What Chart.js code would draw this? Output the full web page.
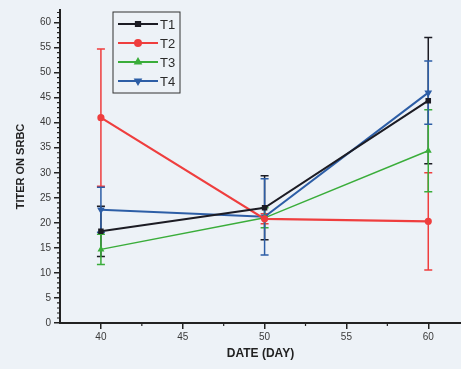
<!DOCTYPE html>
<html>
<head>
<meta charset="utf-8">
<script src="https://cdn.jsdelivr.net/npm/chart.js@4.4.1/dist/chart.umd.min.js"></script>
<style>
  body { margin: 0; background: #edf2f7; }
  canvas { display: block; }
</style>
</head>
<body>
<canvas id="titerChart" width="461" height="369"></canvas>
<script>
// datos
const days = [40, 50, 60];
const xTicks = [40, 45, 50, 55, 60];
const yTicks = [0, 5, 10, 15, 20, 25, 30, 35, 40, 45, 50, 55, 60];

const t1 = [18.3, 23, 44.4];
const t2 = [41, 20.8, 20.3];
const t3 = [14.7, 21, 34.4];
const t4 = [22.6, 21.2, 46];

const t1Err = [5, 6.4, 12.6];
const t2Err = [13.7, 1, 9.7];
const t3Err = [3, 2, 8.2];
const t4Err = [4.5, 7.6, 6.3];

const errs = [t1Err, t2Err, t3Err, t4Err];

function pts(vals) {
  return days.map(function(d, i){ return {x: d, y: vals[i]}; });
}

// fondo
const bgPlugin = {
  id: 'bg',
  beforeDraw: function(chart){
    const c = chart.ctx;
    c.save();
    c.fillStyle = '#edf2f7';
    c.fillRect(0, 0, chart.width, chart.height);
    c.restore();
  }
};

// barras de error
const errorBars = {
  id: 'errorBars',
  beforeDatasetsDraw: function(chart){
    const c = chart.ctx;
    const xs = chart.scales.x, ys = chart.scales.y;
    chart.data.datasets.forEach(function(ds, i){
      const e = errs[i];
      c.save();
      c.strokeStyle = ds.borderColor;
      c.lineWidth = 1.5;
      ds.data.forEach(function(p, j){
        const x = xs.getPixelForValue(p.x);
        const top = ys.getPixelForValue(p.y + e[j]);
        const bot = ys.getPixelForValue(p.y - e[j]);
        c.beginPath();
        c.moveTo(x, top); c.lineTo(x, bot);
        c.moveTo(x - 4, top); c.lineTo(x + 4, top);
        c.moveTo(x - 4, bot); c.lineTo(x + 4, bot);
        c.stroke();
      });
      c.restore();
    });
  }
};

// ticks menores
const minorTicks = {
  id: 'minorTicks',
  afterDraw: function(chart){
    const c = chart.ctx;
    const xs = chart.scales.x, ys = chart.scales.y;
    c.save();
    c.strokeStyle = '#222';
    c.lineWidth = 1.2;
    c.beginPath();
    for (let v = 1; v <= 62; v++) {
      if (v % 5 === 0) continue;
      const y = ys.getPixelForValue(v);
      c.moveTo(xs.left - 3, y); c.lineTo(xs.left + 1, y);
    }
    [42.5, 47.5, 52.5, 57.5].forEach(function(v){
      const x = xs.getPixelForValue(v);
      c.moveTo(x, ys.bottom - 1); c.lineTo(x, ys.bottom + 3);
    });
    c.stroke();
    c.restore();
  }
};

// leyenda con recuadro
const boxLegend = {
  id: 'boxLegend',
  afterDraw: function(chart){
    const c = chart.ctx;
    const bx = 113, by = 12, bw = 67, bh = 81;
    c.save();
    c.strokeStyle = '#333';
    c.lineWidth = 1;
    c.strokeRect(bx, by, bw, bh);
    chart.data.datasets.forEach(function(ds, i){
      const y = by + 12 + i * 19;
      c.strokeStyle = ds.borderColor;
      c.lineWidth = 2;
      c.beginPath();
      c.moveTo(bx + 5, y); c.lineTo(bx + 45, y);
      c.stroke();
      Chart.helpers.drawPoint(c, {
        pointStyle: ds.pointStyle, rotation: ds.pointRotation || 0,
        radius: 3, borderWidth: 1
      }, bx + 25, y);
      c.fillStyle = ds.borderColor;
      c.fill();
      c.fillStyle = '#2a2a2a';
      c.font = '13px "Liberation Sans", Arial, sans-serif';
      c.textBaseline = 'middle';
      c.fillText(ds.label, bx + 47, y + 1);
    });
    c.restore();
  }
};

const ctx = document.getElementById('titerChart').getContext('2d');
const titerChart = new Chart(ctx, {
  type: 'line',
  data: {
    datasets: [
      { label: 'T1', data: pts(t1), borderColor: '#1c1c24', backgroundColor: '#1c1c24',
        pointStyle: 'rect', borderWidth: 2, pointRadius: 2.5 },
      { label: 'T2', data: pts(t2), borderColor: '#ef3e3e', backgroundColor: '#ef3e3e',
        pointStyle: 'circle', borderWidth: 2.2, pointRadius: 2.5 },
      { label: 'T3', data: pts(t3), borderColor: '#3aad3a', backgroundColor: '#3aad3a',
        pointStyle: 'triangle', borderWidth: 1.5, pointRadius: 2.5 },
      { label: 'T4', data: pts(t4), borderColor: '#2d5ea6', backgroundColor: '#2d5ea6',
        pointStyle: 'triangle', pointRotation: 180, borderWidth: 2, pointRadius: 2.5 }
    ]
  },
  options: {
    responsive: false,
    animation: false,
    layout: { autoPadding: false, padding: { top: 10, right: 0, bottom: 8, left: 14 } },
    plugins: {
      legend: { display: false },
      tooltip: { enabled: false }
    },
    scales: {
      x: {
        type: 'linear',
        min: 37.5,
        max: 62,
        afterBuildTicks: function(axis){ axis.ticks = xTicks.map(function(v){ return {value: v}; }); },
        afterFit: function(axis){ axis.height = 38; },
        border: { color: '#222', width: 2 },
        grid: { drawOnChartArea: false, tickLength: 6, color: '#222', lineWidth: 1.5 },
        ticks: { color: '#3a3a3a', font: { size: 10, family: '"Liberation Sans", Arial, sans-serif' }, padding: 2 },
        title: { display: true, text: 'DATE (DAY)', color: '#222', padding: { top: 2, bottom: 0 },
                 font: { size: 12, weight: 'bold', family: '"Liberation Sans", Arial, sans-serif' } }
      },
      y: {
        min: 0,
        max: 62.5,
        afterBuildTicks: function(axis){ axis.ticks = yTicks.map(function(v){ return {value: v}; }); },
        afterFit: function(axis){ axis.width = 46; },
        border: { color: '#222', width: 2 },
        grid: { drawOnChartArea: false, tickLength: 6, color: '#222', lineWidth: 1.5 },
        ticks: { color: '#3a3a3a', font: { size: 10, family: '"Liberation Sans", Arial, sans-serif' }, padding: 3 },
        title: { display: true, text: 'TITER ON SRBC', color: '#222', padding: { top: 0, bottom: 4 },
                 font: { size: 11, weight: 'bold', family: '"Liberation Sans", Arial, sans-serif' } }
      }
    }
  },
  plugins: [bgPlugin, errorBars, minorTicks, boxLegend]
});
</script>
</body>
</html>
